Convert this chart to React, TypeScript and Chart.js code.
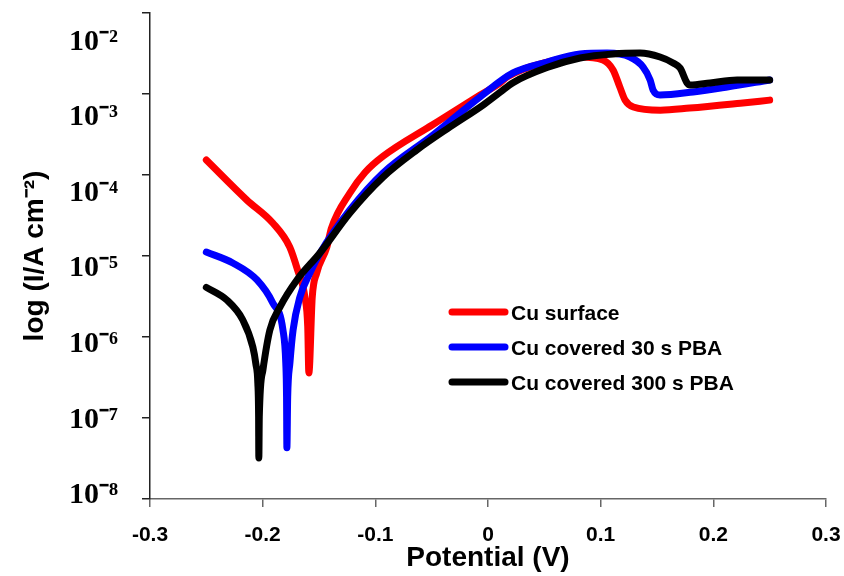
import React, { useEffect, useRef } from "react";
import { Chart, registerables } from "chart.js";

Chart.register(...registerables);

// ---- data ----
const seriesLabels = ["Cu surface", "Cu covered 30 s PBA", "Cu covered 300 s PBA"];
const seriesColors = ["#ff0000", "#0000ff", "#000000"];

// Cu surface
const cuSurfaceE = [
  -0.25, -0.214, -0.191, -0.176, -0.169, -0.1625, -0.16, -0.159,
  -0.156, -0.152, -0.143, -0.139, -0.1226, -0.109, -0.0932, -0.0488, -0.0098,
  0.0107, 0.0169, 0.0524, 0.0817, 0.102, 0.111, 0.117, 0.1217,
  0.129, 0.153, 0.179, 0.224, 0.25,
];
const cuSurfaceI = [
  1.53e-4, 4.9e-5, 2.55e-5, 1.29e-5, 6.7e-6, 3.1e-6, 1.33e-6, 3.6e-7,
  3.1e-6, 6.2e-6, 1.29e-5, 2.2e-5, 6.0e-5, 1.08e-4, 1.7e-4, 4.2e-4, 9.2e-4,
  1.37e-3, 1.62e-3, 2.48e-3, 2.86e-3, 2.63e-3, 1.98e-3, 1.22e-3, 8.4e-4,
  6.9e-4, 6.3e-4, 6.7e-4, 7.7e-4, 8.4e-4,
];

// Cu covered 30 s PBA
const pba30E = [
  -0.25, -0.2265, -0.205, -0.191, -0.182, -0.1795, -0.1788, -0.1785,
  -0.1778, -0.1758, -0.173, -0.167, -0.158, -0.149, -0.1226, -0.0932,
  -0.0488, -0.0071, 0.0222, 0.0524, 0.0817, 0.1057, 0.126, 0.1377,
  0.1439, 0.1465, 0.1527, 0.182, 0.2123, 0.25,
];
const pba30I = [
  1.12e-5, 8.2e-6, 5.06e-6, 2.63e-6, 1.22e-6, 4.8e-7, 1.82e-7, 4.3e-8,
  1.82e-7, 4.8e-7, 1.22e-6, 3.1e-6, 6.2e-6, 1.09e-5, 3.7e-5, 1.06e-4,
  3.12e-4, 9.2e-4, 1.82e-3, 2.48e-3, 3.12e-3, 3.2e-3, 2.86e-3, 2.15e-3,
  1.49e-3, 1.12e-3, 9.7e-4, 1.06e-3, 1.22e-3, 1.49e-3,
];

// Cu covered 300 s PBA
const pba300E = [
  -0.25, -0.2318, -0.2176, -0.2087, -0.206, -0.2043, -0.2036, -0.2034, -0.203,
  -0.1998, -0.1936, -0.1847, -0.1696, -0.1492, -0.1226, -0.0932, -0.0631,
  -0.0337, -0.0044, 0.0107, 0.0222, 0.0524, 0.0817, 0.111, 0.135,
  0.1527, 0.1643, 0.1705, 0.1767, 0.1794, 0.1971, 0.2211, 0.25,
];
const pba300I = [
  4.1e-6, 2.86e-6, 1.62e-6, 7.5e-7, 4.6e-7, 2.7e-7, 1.03e-7, 3.2e-8, 1.03e-7,
  3.9e-7, 1.22e-6, 2.34e-6, 5.06e-6, 1.09e-5, 3.4e-5, 9.4e-5, 2.04e-4,
  3.92e-4, 7.3e-4, 1.05e-3, 1.38e-3, 2.12e-3, 2.78e-3, 3.12e-3, 3.2e-3,
  2.86e-3, 2.42e-3, 2.09e-3, 1.37e-3, 1.29e-3, 1.37e-3, 1.49e-3, 1.49e-3,
];

const xTickValues = [-0.3, -0.2, -0.1, 0, 0.1, 0.2, 0.3];
const xTickLabels = ["-0.3", "-0.2", "-0.1", "0", "0.1", "0.2", "0.3"];
const yTickValues = [1e-8, 1e-7, 1e-6, 1e-5, 1e-4, 1e-3, 1e-2];
const yTickLabels = ["10⁻⁸", "10⁻⁷", "10⁻⁶", "10⁻⁵", "10⁻⁴", "10⁻³", "10⁻²"];

const xTitle = "Potential (V)";
const yTitle = "log (I/A cm⁻²)";

const seriesE = [cuSurfaceE, pba30E, pba300E];
const seriesI = [cuSurfaceI, pba30I, pba300I];

const SANS = '"Liberation Sans", Arial, sans-serif';
const SERIF = '"Liberation Serif", "Times New Roman", serif';

const insideLegend = {
  id: "insideLegend",
  afterDatasetsDraw(chart: any) {
    const { ctx, chartArea } = chart;
    const x0 = chartArea.left + 299;
    const y0 = chartArea.top + 299;
    const rowH = 35;
    const lineLen = 59;
    ctx.save();
    chart.data.datasets.forEach((ds: any, i: number) => {
      const y = y0 + i * rowH;
      ctx.strokeStyle = ds.borderColor;
      ctx.lineWidth = 7;
      ctx.lineCap = "round";
      ctx.beginPath();
      ctx.moveTo(x0 + 3, y);
      ctx.lineTo(x0 + lineLen - 3, y);
      ctx.stroke();
      ctx.fillStyle = "#000";
      ctx.font = `bold 21px ${SANS}`;
      ctx.textAlign = "left";
      ctx.textBaseline = "middle";
      ctx.fillText(ds.label, x0 + lineLen + 3, y + 2);
    });
    ctx.restore();
  },
};

export default function App() {
  const canvasRef = useRef<HTMLCanvasElement | null>(null);

  useEffect(() => {
    const canvas = canvasRef.current;
    if (!canvas) return;
    const datasets = seriesLabels.map((label, i) => ({
      label,
      data: seriesE[i].map((e, k) => ({ x: e, y: seriesI[i][k] })),
      borderColor: seriesColors[i],
      backgroundColor: seriesColors[i],
      borderWidth: 7,
      borderCapStyle: "round" as const,
      borderJoinStyle: "round" as const,
      pointRadius: 0,
      pointHoverRadius: 0,
      showLine: true,
      fill: false,
      cubicInterpolationMode: "monotone" as const,
      order: seriesLabels.length - 1 - i,
      yAxisID: "y",
    }));

    const chart = new Chart(canvas, {
      type: "scatter",
      data: { datasets },
      options: {
        animation: false,
        responsive: false,
        events: [],
        layout: { padding: { left: 0, right: 18, top: 13, bottom: 0 } },
        plugins: {
          legend: { display: false },
          tooltip: { enabled: false },
        },
        scales: {
          x: {
            type: "linear",
            min: -0.3,
            max: 0.3,
            afterBuildTicks: (scale: any) => {
              scale.ticks = xTickValues.map((v) => ({ value: v }));
            },
            afterFit: (scale: any) => {
              scale.height = 77;
              scale.paddingLeft = 0;
              scale.paddingRight = 0;
            },
            grid: {
              drawOnChartArea: false,
              drawTicks: true,
              tickLength: 8,
              color: "#666",
              lineWidth: 1.5,
            },
            border: { display: true, color: "#666", width: 1.5 },
            ticks: {
              autoSkip: false,
              maxRotation: 0,
              padding: 16,
              color: "#000",
              font: { family: SANS, size: 21, weight: "bold" },
              callback: (_v: any, idx: number) => xTickLabels[idx],
            },
            title: {
              display: true,
              text: xTitle,
              color: "#000",
              font: { family: SANS, size: 28, weight: "bold" },
              padding: { top: 0, bottom: 1 },
            },
          },
          y: {
            type: "logarithmic",
            position: "left",
            weight: 0,
            min: 1e-8,
            max: 1e-2,
            afterBuildTicks: (scale: any) => {
              scale.ticks = yTickValues.map((v) => ({ value: v }));
            },
            afterFit: (scale: any) => {
              scale.width = 8;
              scale.paddingTop = 0;
              scale.paddingBottom = 0;
            },
            grid: {
              drawOnChartArea: false,
              drawTicks: true,
              tickLength: 8,
              color: "#222",
              lineWidth: 1.5,
            },
            border: { display: true, color: "#222", width: 1.5 },
            ticks: { display: false },
          },
          yl: {
            type: "logarithmic",
            position: "left",
            weight: 1,
            min: 9.41e-9,
            max: 0.02412,
            afterBuildTicks: (scale: any) => {
              scale.ticks = yTickValues.map((v) => ({ value: v }));
            },
            afterFit: (scale: any) => {
              scale.width = 142;
              scale.paddingTop = 0;
              scale.paddingBottom = 0;
            },
            grid: { display: false, drawTicks: false, drawOnChartArea: false },
            border: { display: false },
            ticks: {
              autoSkip: false,
              padding: 24,
              color: "#000",
              font: { family: SERIF, size: 30, weight: "bold" },
              callback: (_v: any, idx: number) => yTickLabels[idx],
            },
            title: {
              display: true,
              text: yTitle,
              color: "#000",
              font: { family: SANS, size: 28, weight: "bold" },
              padding: { top: 18, bottom: 0 },
            },
          },
        },
      } as any,
      plugins: [insideLegend],
    });

    return () => {
      chart.destroy();
    };
  }, []);

  return (
    <div style={{ position: "fixed", left: 0, top: 0, width: 844, height: 576, background: "#fff" }}>
      <canvas ref={canvasRef} width={844} height={576} style={{ display: "block" }} />
    </div>
  );
}
